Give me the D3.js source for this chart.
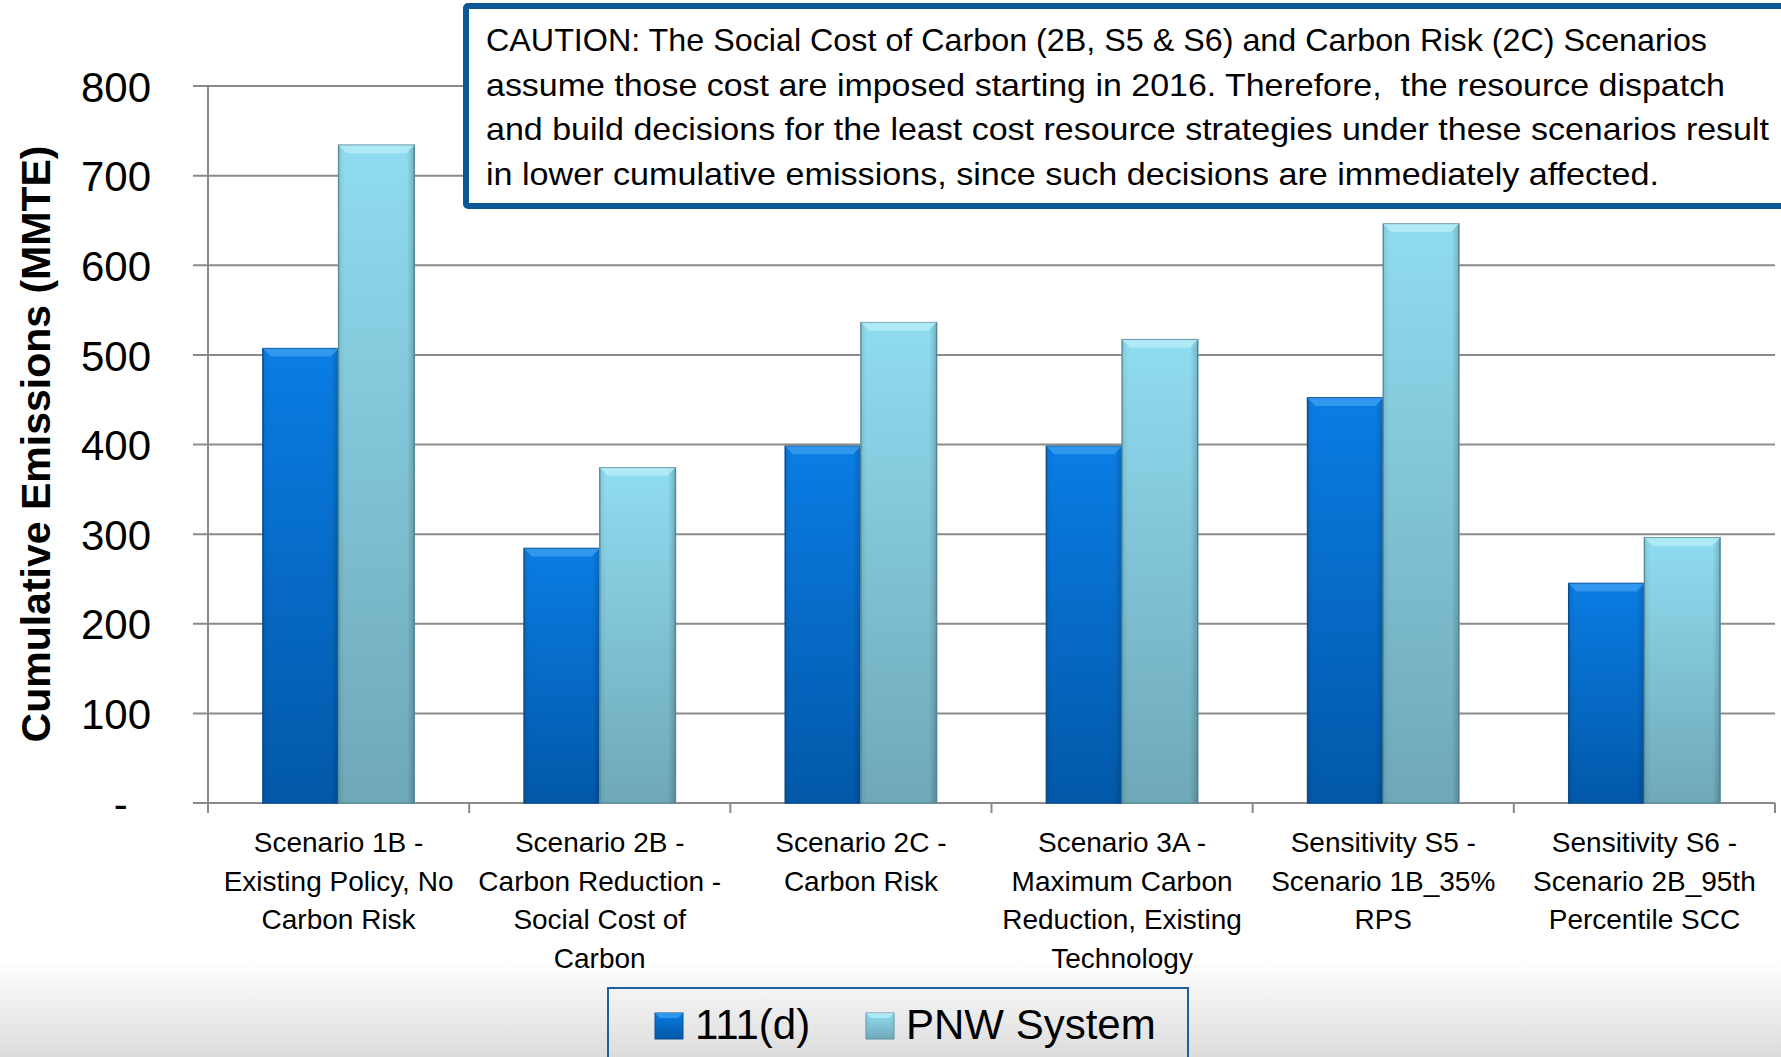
<!DOCTYPE html>
<html>
<head>
<meta charset="utf-8">
<script src="https://cdn.jsdelivr.net/npm/d3@7"></script>
<style>
  html, body { margin: 0; padding: 0; background: #ffffff; }
  svg { display: block; }
  text { font-family: "Liberation Sans", Arial, sans-serif; fill: #000; }
</style>
</head>
<body>
<svg id="chart" width="1781" height="1057"></svg>
<script>
// ---- data ----
const categories = [
  "Scenario 1B - Existing Policy, No Carbon Risk",
  "Scenario 2B - Carbon Reduction - Social Cost of Carbon",
  "Scenario 2C - Carbon Risk",
  "Scenario 3A - Maximum Carbon Reduction, Existing Technology",
  "Sensitivity S5 - Scenario 1B_35% RPS",
  "Sensitivity S6 - Scenario 2B_95th Percentile SCC"
];
const categoryLines = [
  ["Scenario 1B -", "Existing Policy, No", "Carbon Risk"],
  ["Scenario 2B -", "Carbon Reduction -", "Social Cost of", "Carbon"],
  ["Scenario 2C -", "Carbon Risk"],
  ["Scenario 3A -", "Maximum Carbon", "Reduction, Existing", "Technology"],
  ["Sensitivity S5 -", "Scenario 1B_35%", "RPS"],
  ["Sensitivity S6 -", "Scenario 2B_95th", "Percentile SCC"]
];
const seriesNames = ["111(d)", "PNW System"];
const values111d = [507, 284, 398, 398, 452, 245];
const valuesPNW = [734, 374, 536, 517, 646, 296];
const yTicks = [0, 100, 200, 300, 400, 500, 600, 700, 800];
const yTitle = "Cumulative Emissions (MMTE)";
const cautionLines = [
  "CAUTION: The Social Cost of Carbon (2B, S5 & S6) and Carbon Risk (2C) Scenarios",
  "assume those cost are imposed starting in 2016. Therefore,  the resource dispatch",
  "and build decisions for the least cost resource strategies under these scenarios result",
  "in lower cumulative emissions, since such decisions are immediately affected."
];
// rendered line widths (style), matching the original typeface's set width
const cautionWidths = [1221, 1239, 1283, 1173];

// ---- layout ----
const W = 1781, H = 1057;
const plot = { left: 208, right: 1775, top: 86, bottom: 803 };
const svg = d3.select("#chart");
const defs = svg.append("defs");

// background gradient at bottom
const bg = defs.append("linearGradient").attr("id", "bgGrad").attr("x1", 0).attr("x2", 0).attr("y1", 0).attr("y2", 1);
bg.append("stop").attr("offset", "0%").attr("stop-color", "#ffffff");
bg.append("stop").attr("offset", "100%").attr("stop-color", "#dcdcdc");
svg.append("rect").attr("x", 0).attr("y", 960).attr("width", W).attr("height", H - 960).attr("fill", "url(#bgGrad)");

// bar gradients
const palette = [
  { top: "#0a7de4", bottom: "#0258a8", stroke: "#0a4f8f", bevel: "#3b9ff0" },
  { top: "#8fdcf0", bottom: "#6fa8b8", stroke: "#5f93a3", bevel: "#b8eef9" }
];
palette.forEach((p, i) => {
  const g = defs.append("linearGradient").attr("id", "barGrad" + i).attr("x1", 0).attr("x2", 0).attr("y1", 0).attr("y2", 1);
  g.append("stop").attr("offset", "0%").attr("stop-color", p.top);
  g.append("stop").attr("offset", "100%").attr("stop-color", p.bottom);
  const gh = defs.append("linearGradient").attr("id", "barEdge" + i).attr("x1", 0).attr("x2", 1).attr("y1", 0).attr("y2", 0);
  gh.append("stop").attr("offset", "0%").attr("stop-color", "#000").attr("stop-opacity", 0.08);
  gh.append("stop").attr("offset", "8%").attr("stop-color", "#000").attr("stop-opacity", 0);
  gh.append("stop").attr("offset", "90%").attr("stop-color", "#000").attr("stop-opacity", 0);
  gh.append("stop").attr("offset", "100%").attr("stop-color", "#000").attr("stop-opacity", 0.18);
});

// scales
const x0 = d3.scaleBand().domain(categories).range([plot.left, plot.right]).padding(0);
const x1 = d3.scaleBand().domain(seriesNames).range([0, x0.bandwidth()]).paddingInner(0).paddingOuter(0.725);
const y = d3.scaleLinear().domain([0, 800]).range([plot.bottom, plot.top]);

// gridlines
svg.append("g").selectAll("line").data(yTicks).join("line")
  .attr("x1", plot.left - 15).attr("x2", plot.right)
  .attr("y1", d => y(d)).attr("y2", d => y(d))
  .attr("stroke", "#8a8a8a").attr("stroke-width", 2);

// y axis line
svg.append("line").attr("x1", plot.left).attr("x2", plot.left)
  .attr("y1", plot.top).attr("y2", plot.bottom + 10)
  .attr("stroke", "#8a8a8a").attr("stroke-width", 2);

// x ticks
const xTickPos = categories.map(c => x0(c)).concat([plot.right]);
svg.append("g").selectAll("line").data(xTickPos).join("line")
  .attr("x1", d => d).attr("x2", d => d)
  .attr("y1", plot.bottom).attr("y2", plot.bottom + 10)
  .attr("stroke", "#8a8a8a").attr("stroke-width", 2);

// y tick labels via d3 axis
const yAxis = d3.axisLeft(y).tickValues(yTicks).tickSize(0).tickPadding(0)
  .tickFormat(d => d === 0 ? "-\u00A0\u00A0" : String(d));
const yAxisG = svg.append("g").attr("transform", `translate(151,0)`).call(yAxis);
yAxisG.select(".domain").remove();
yAxisG.selectAll("text")
  .attr("font-family", "'Liberation Sans', Arial, sans-serif")
  .attr("font-size", 42).attr("fill", "#000").attr("dy", "0.36em").attr("x", 0)
  .style("white-space", "pre");

// y title
svg.append("text")
  .attr("transform", `translate(50,444) rotate(-90)`)
  .attr("text-anchor", "middle")
  .attr("font-size", 41).attr("font-weight", "bold")
  .text(yTitle);

// bars
const rows = categories.map((c, i) => ({ cat: c, vals: [values111d[i], valuesPNW[i]] }));
const groups = svg.append("g").selectAll("g").data(rows).join("g")
  .attr("transform", d => `translate(${x0(d.cat)},0)`);
const barData = d => d.vals.map((v, j) => ({ v, j, s: seriesNames[j] }));
const bars = groups.selectAll("g.bar").data(barData).join("g").attr("class", "bar");
bars.append("rect")
  .attr("x", d => x1(d.s)).attr("width", x1.bandwidth())
  .attr("y", d => y(d.v)).attr("height", d => y(0) - y(d.v))
  .attr("fill", d => `url(#barGrad${d.j})`)
  .attr("stroke", d => palette[d.j].stroke).attr("stroke-width", 1.5);
bars.append("rect")
  .attr("x", d => x1(d.s)).attr("width", x1.bandwidth())
  .attr("y", d => y(d.v)).attr("height", d => y(0) - y(d.v))
  .attr("fill", d => `url(#barEdge${d.j})`);
// top bevel
const bev = 8;
bars.append("polygon")
  .attr("points", d => {
    const xl = x1(d.s), xr = xl + x1.bandwidth(), t = y(d.v);
    return [[xl, t], [xr, t], [xr - bev, t + bev], [xl + bev, t + bev]].map(p => p.join(",")).join(" ");
  })
  .attr("fill", d => palette[d.j].bevel).attr("opacity", 0.8);

// category labels
const lineH = 38.7;
const catG = svg.append("g").selectAll("text").data(rows).join("text")
  .attr("text-anchor", "middle").attr("font-size", 28);
catG.each(function (d, i) {
  const t = d3.select(this);
  categoryLines[i].forEach((ln, k) => {
    t.append("tspan").attr("x", x0(d.cat) + x0.bandwidth() / 2)
      .attr("y", 852 + k * lineH).text(ln);
  });
});

// caution box
svg.append("rect").attr("x", 466).attr("y", 6).attr("width", 1400).attr("height", 200)
  .attr("fill", "#ffffff").attr("stroke", "#0b5796").attr("stroke-width", 6).attr("rx", 2);
svg.append("g").selectAll("text").data(cautionLines).join("text")
  .attr("x", 486).attr("y", (d, i) => 51 + i * 44.7)
  .attr("font-size", 32).style("white-space", "pre")
  .attr("textLength", (d, i) => cautionWidths[i]).attr("lengthAdjust", "spacingAndGlyphs")
  .text(d => d);

// legend
svg.append("rect").attr("x", 608).attr("y", 988).attr("width", 580).attr("height", 90)
  .attr("fill", "none").attr("stroke", "#1f5fa0").attr("stroke-width", 2);
const legendPos = [{ mx: 655, tx: 695 }, { mx: 866, tx: 906 }];
const lg = svg.append("g").selectAll("g").data(seriesNames).join("g");
lg.append("rect").attr("x", (d, i) => legendPos[i].mx).attr("y", 1013)
  .attr("width", 28).attr("height", 26)
  .attr("fill", (d, i) => `url(#barGrad${i})`).attr("stroke", (d, i) => palette[i].stroke).attr("stroke-width", 1);
lg.append("polygon")
  .attr("points", (d, i) => {
    const xl = legendPos[i].mx, xr = xl + 28, t = 1013;
    return [[xl, t], [xr, t], [xr - 5, t + 5], [xl + 5, t + 5]].map(p => p.join(",")).join(" ");
  })
  .attr("fill", (d, i) => palette[i].bevel).attr("opacity", 0.8);
lg.append("text").attr("x", (d, i) => legendPos[i].tx).attr("y", 1039)
  .attr("font-size", 42).text(d => d);
</script>
</body>
</html>
